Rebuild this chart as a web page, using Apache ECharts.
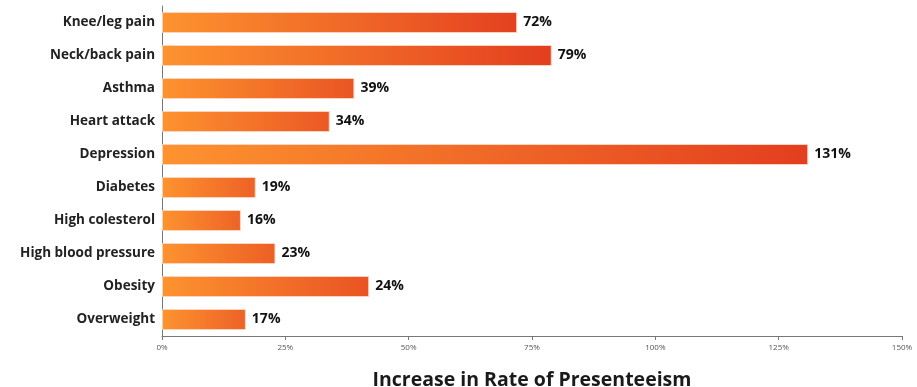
<!DOCTYPE html>
<html><head><meta charset="utf-8">
<script src="https://cdn.jsdelivr.net/npm/echarts@6/dist/echarts.min.js"></script>
<style>html,body{margin:0;padding:0;background:#fff}#c{width:917px;height:387px}</style>
</head><body><div id="c"></div>
<script>
const categories = ["Knee/leg pain","Neck/back pain","Asthma","Heart attack","Depression","Diabetes","High colesterol","High blood pressure","Obesity","Overweight"];
const barValues = [72,79,39,34,131,19,16,23,42,17];
const labelTexts = ["72%","79%","39%","34%","131%","19%","16%","23%","24%","17%"];
const xTicks = [0,25,50,75,100,125,150];
const axisTitle = "Increase in Rate of Presenteeism";

const chart = echarts.init(document.getElementById('c'));
const startC = [253,147,47], endC = [227,62,31];
function mix(f){
  const c = startC.map((s,i)=>Math.round(s+(endC[i]-s)*f));
  return 'rgb(' + c.join(',') + ')';
}
chart.setOption({
  animation:false,
  grid:{left:162, right:15, top:6, bottom:51, containLabel:false, outerBoundsMode:'none'},
  xAxis:{
    type:'value', min:0, max:150, interval:25,
    axisLine:{show:true, lineStyle:{color:'#777', width:1}},
    axisTick:{show:true, length:4, lineStyle:{color:'#777'}},
    splitLine:{show:false},
    axisLabel:{formatter: v => v + '%', color:'#555', fontSize:8, fontFamily:'Open Sans', margin:8},
    name: axisTitle, nameLocation:'middle', nameGap:34,
    nameTextStyle:{fontSize:19.5, fontWeight:'bold', color:'#1a1a1a', fontFamily:'Open Sans'}
  },
  yAxis:{
    type:'category', data:categories, inverse:true,
    axisLine:{show:true, lineStyle:{color:'#777', width:1}},
    axisTick:{show:false},
    axisLabel:{color:'#222', fontSize:13.5, fontWeight:'bold', fontFamily:'Open Sans', margin:7}
  },
  series:[{
    type:'bar', data:barValues, barWidth:21,
    itemStyle:{
      color: p => new echarts.graphic.LinearGradient(0,0,1,0,[
        {offset:0, color:mix(0)},
        {offset:1, color:mix(Math.min(1, 0.45 + p.value/140))}
      ]),
      borderColor:'rgba(255,215,195,0.9)', borderWidth:1},
    label:{show:true, position:'right', distance:6,
      formatter: p => labelTexts[p.dataIndex],
      color:'#111', fontSize:14, fontWeight:'bold', fontFamily:'Open Sans'}
  }]
});
</script></body></html>
